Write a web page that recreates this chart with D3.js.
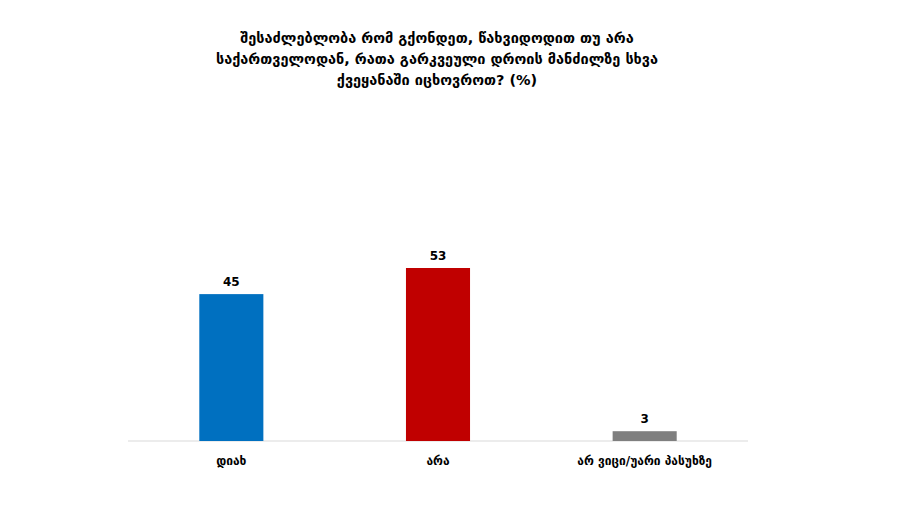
<!DOCTYPE html>
<html><head><meta charset="utf-8">
<script src="https://cdn.jsdelivr.net/npm/d3@7"></script>
<style>body{margin:0;background:#fff}svg{font-family:"DejaVu Sans",sans-serif}</style>
</head><body><div id="chart"></div>
<script>
const categories = ["დიახ", "არა", "არ ვიცი/უარი პასუხზე"];
const values = [45, 53, 3];
const colors = ["#0070c0", "#c00000", "#7f7f7f"];
const titleLines = ["შესაძლებლობა რომ გქონდეთ, წახვიდოდით თუ არა", "საქართველოდან, რათა გარკვეული დროის მანძილზე სხვა", "ქვეყანაში იცხოვროთ? (%)"];

const width = 897, height = 522;
const svg = d3.select("#chart").append("svg").attr("width", width).attr("height", height);

const x = d3.scaleBand().domain(categories).range([128, 748]).paddingInner(0.69).paddingOuter(0.345);
const y = d3.scaleLinear().domain([0, 53]).range([441, 268]);

svg.append("g").selectAll("text").data(titleLines).enter().append("text")
  .attr("x", 437).attr("y", (d, i) => 43 + i * 21)
  .attr("text-anchor", "middle").attr("font-size", 14.5).attr("font-weight", "bold")
  .text(d => d);

svg.append("line").attr("x1", 128).attr("x2", 748).attr("y1", y(0)).attr("y2", y(0))
  .attr("stroke", "#d9d9d9");

svg.selectAll("rect").data(values).enter().append("rect")
  .attr("x", (d, i) => x(categories[i])).attr("width", x.bandwidth())
  .attr("y", d => y(d)).attr("height", d => y(0) - y(d))
  .attr("fill", (d, i) => colors[i]);

svg.selectAll(".val").data(values).enter().append("text")
  .attr("x", (d, i) => x(categories[i]) + x.bandwidth() / 2).attr("y", d => y(d) - 8)
  .attr("text-anchor", "middle").attr("font-size", 12).attr("font-weight", "bold")
  .text(d => d);

svg.selectAll(".cat").data(categories).enter().append("text")
  .attr("x", d => x(d) + x.bandwidth() / 2).attr("y", 465)
  .attr("text-anchor", "middle").attr("font-size", 12).attr("font-weight", "bold")
  .text(d => d);
</script></body></html>
